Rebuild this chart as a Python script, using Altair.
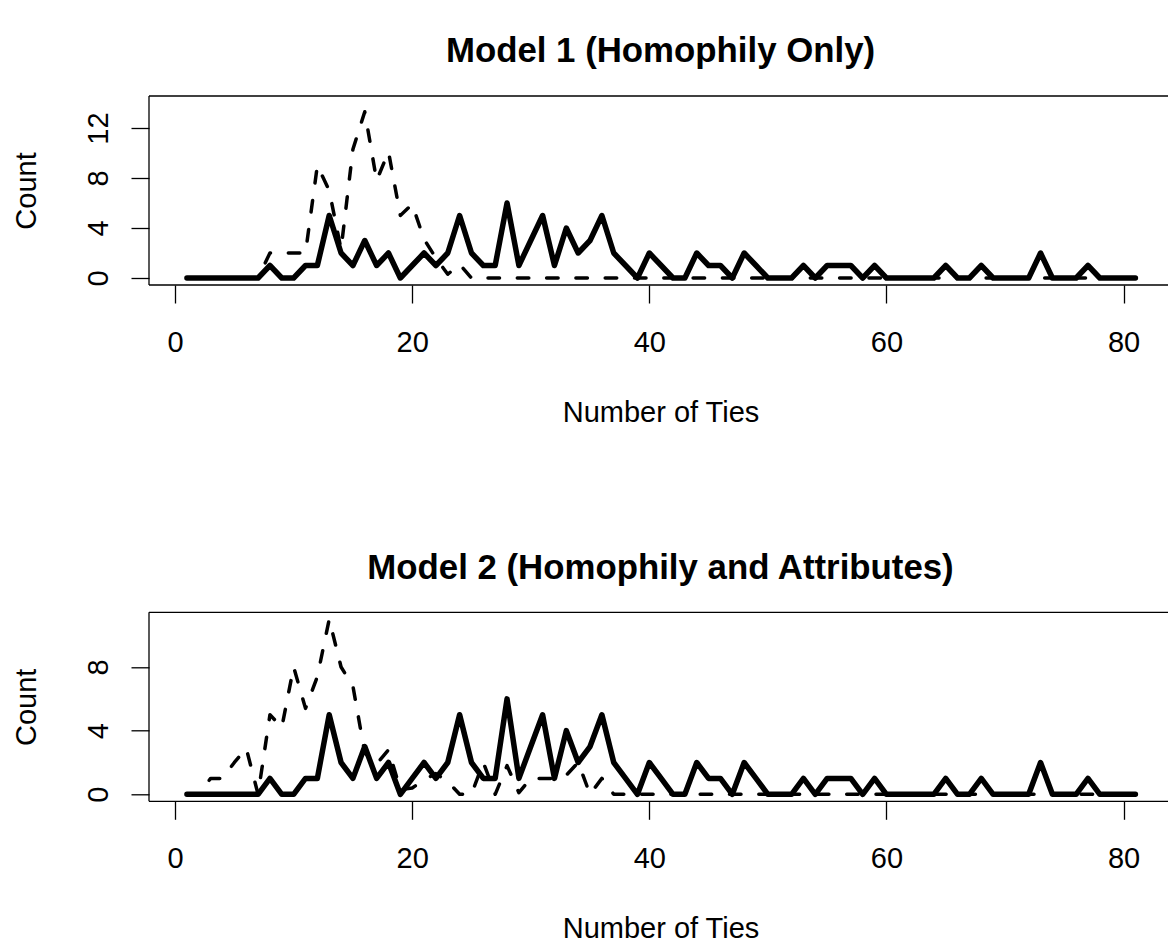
import altair as alt
import pandas as pd

# Number of ties (x positions)
ties = list(range(1, 82))

# Observed degree counts (solid line, same in both panels)
observed = [0, 0, 0, 0, 0, 0, 0, 1, 0, 0,
            1, 1, 5, 2, 1, 3, 1, 2, 0, 1,
            2, 1, 2, 5, 2, 1, 1, 6, 1, 3,
            5, 1, 4, 2, 3, 5, 2, 1, 0, 2,
            1, 0, 0, 2, 1, 1, 0, 2, 1, 0,
            0, 0, 1, 0, 1, 1, 1, 0, 1, 0,
            0, 0, 0, 0, 1, 0, 0, 1, 0, 0,
            0, 0, 2, 0, 0, 0, 1, 0, 0, 0,
            0]

# Simulated counts, Model 1 (dashed line)
sim_model1 = [0, 0, 0, 0, 0, 0, 0, 2, 2, 2,
              2, 9, 7, 2.3, 10.3, 13.3, 7.8, 10.1, 5.0, 5.9,
              3.1, 1.6, 0.3, 1.1, 0, 0, 0, 0, 0, 0,
              0, 0, 0, 0, 0, 0, 0, 0, 0, 0,
              0, 0, 0, 0, 0, 0, 0, 0, 0, 0,
              0, 0, 0, 0, 0, 0, 0, 0, 0, 0,
              0, 0, 0, 0, 0, 0, 0, 0, 0, 0,
              0, 0, 0, 0, 0, 0, 0, 0, 0, 0,
              0]

# Simulated counts, Model 2 (dashed line)
sim_model2 = [0, 0, 1, 1, 2, 2.9, 0, 5, 4.2, 8,
              5.4, 7.4, 11, 8, 6.8, 2.6, 1.9, 2.8, 0.3, 0.4,
              0.9, 1.3, 0.8, 0, 0, 2, 0, 1.8, 0.1, 1,
              1, 1, 1.2, 2, 0, 1, 0, 0, 0, 0,
              0, 0, 0, 0, 0, 0, 0, 0, 0, 0,
              0, 0, 0, 0, 0, 0, 0, 0, 0, 0,
              0, 0, 0, 0, 0, 0, 0, 0, 0, 0,
              0, 0, 0, 0, 0, 0, 0, 0, 0, 0,
              0]

titles = ["Model 1 (Homophily Only)", "Model 2 (Homophily and Attributes)"]
x_ticks = [0, 20, 40, 60, 80]
y_ticks_1 = [0, 2, 4, 6, 8, 10, 12, 14]
y_ticks_2 = [0, 2, 4, 6, 8, 10]
y_domain_1 = [-0.56, 14.56]
y_domain_2 = [-0.44, 11.44]
x_domain = [-2.2, 83.75]

W = 1019
H = 189
LEFT = 149
TOP = 95.7
GAP = 327.3
BOTTOM_EXTRA = 142
FONT = "Liberation Sans"


def panel(title, sim, y_domain, y_ticks, first):
    df = pd.DataFrame({"ties": ties, "observed": observed, "simulated": sim})
    xs = alt.Scale(domain=x_domain, nice=False, zero=False)
    ys = alt.Scale(domain=y_domain, nice=False, zero=False)
    x_axis = alt.Axis(
        values=x_ticks, domain=False, grid=False, tickSize=18, tickWidth=1.3,
        tickColor="black", labelFont=FONT, labelFontSize=29, labelColor="black",
        labelBaseline="alphabetic", labelPadding=48.5, labelFlush=False,
        labelOverlap=False,
        title="Number of Ties", titleFont=FONT, titleFontSize=29,
        titleFontWeight="normal", titleColor="black", titleBaseline="alphabetic",
        titleY=136.5, titleX=W / 2 + 2,
    )
    y_axis = alt.Axis(
        values=y_ticks, domain=False, grid=False, tickSize=18, tickWidth=1.3,
        tickColor="black", labelFont=FONT, labelFontSize=29, labelColor="black",
        labelAngle=270, labelAlign="center", labelBaseline="alphabetic",
        labelPadding=24, labelFlush=False, labelOverlap=False,
        labelExpr="datum.value % 4 == 0 ? datum.label : ''",
        title="Count", titleFont=FONT, titleFontSize=29, titleFontWeight="normal",
        titleColor="black", titleAngle=270, titleAlign="center",
        titleBaseline="alphabetic", titleX=-114, titleY=H / 2,
    )
    base = alt.Chart(df)
    solid = base.mark_line(
        color="black", strokeWidth=5.5, strokeJoin="round", strokeCap="round"
    ).encode(
        x=alt.X("ties:Q", scale=xs, axis=x_axis),
        y=alt.Y("observed:Q", scale=ys, axis=y_axis),
    )
    dashed = base.mark_line(
        color="black", strokeWidth=3.5, strokeDash=[11.5, 17.8],
        strokeJoin="round", strokeCap="round"
    ).encode(
        x=alt.X("ties:Q", scale=xs),
        y=alt.Y("simulated:Q", scale=ys),
    )
    fr = alt.Chart(pd.DataFrame({"title": [title]}))
    top = fr.mark_rule(color="black", strokeWidth=1.3).encode(
        x=alt.value(0), x2=alt.value(W), y=alt.value(0))
    bottom = fr.mark_rule(color="black", strokeWidth=1.3).encode(
        x=alt.value(0), x2=alt.value(W), y=alt.value(H))
    left = fr.mark_rule(color="black", strokeWidth=1.3).encode(
        x=alt.value(0), y=alt.value(0), y2=alt.value(H))
    heading = fr.mark_text(
        font=FONT, fontSize=34.8, fontWeight="bold", color="black",
        align="center", baseline="alphabetic",
    ).encode(x=alt.value(W / 2 + 2), y=alt.value(-33.7), text="title:N")
    # invisible anchors that fix the page's outer extent
    if first:
        anchor = fr.mark_rule(color="white", opacity=0, strokeWidth=0.1).encode(
            x=alt.value(-LEFT), x2=alt.value(-LEFT + 10), y=alt.value(-TOP))
    else:
        anchor = fr.mark_rule(color="white", opacity=0, strokeWidth=0.1).encode(
            x=alt.value(W - 10), x2=alt.value(W), y=alt.value(H + BOTTOM_EXTRA))
    return alt.layer(solid, dashed, top, bottom, left, heading, anchor).properties(
        width=W, height=H,
    )


p1 = panel(titles[0], sim_model1, y_domain_1, y_ticks_1, True)
p2 = panel(titles[1], sim_model2, y_domain_2, y_ticks_2, False)

chart = alt.VConcatChart(vconcat=[p1, p2], spacing=GAP, bounds="flush").properties(
    padding=0,
    background="white",
).configure_view(stroke=None)

chart.save("out.html", embed_options={"renderer": "svg", "actions": False})
